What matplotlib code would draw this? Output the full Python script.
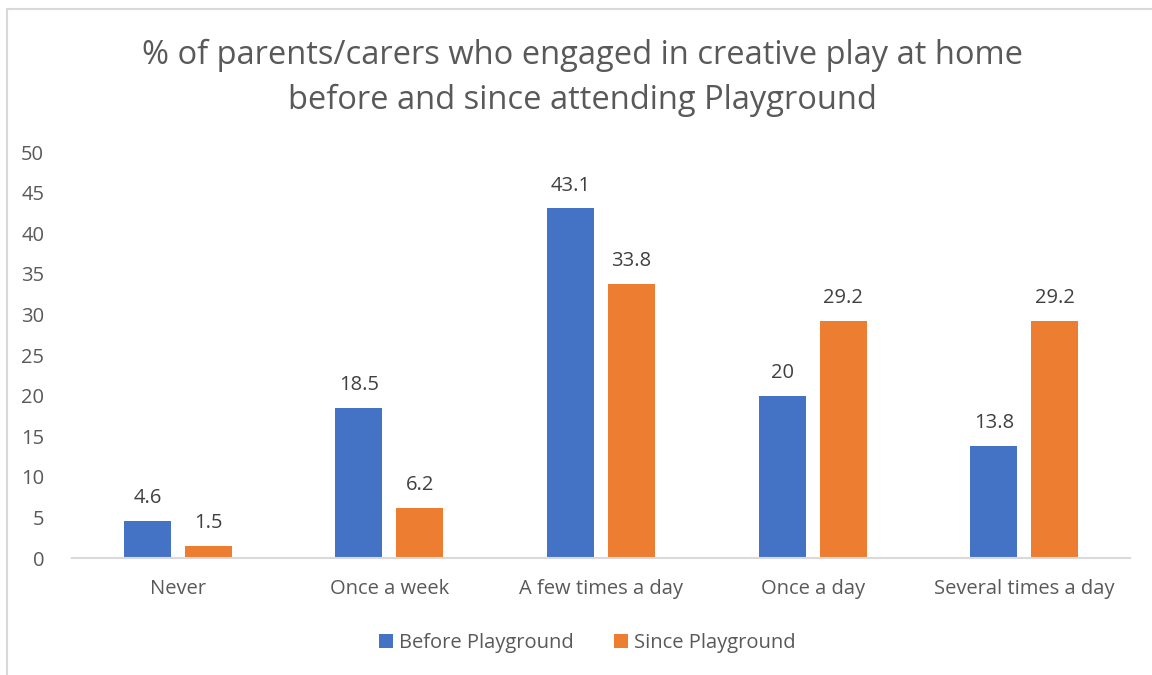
import numpy as np
import matplotlib.pyplot as plt
from matplotlib.patches import Rectangle

categories = ['Never', 'Once a week', 'A few times a day', 'Once a day', 'Several times a day']
before = [4.6, 18.5, 43.1, 20, 13.8]
since = [1.5, 6.2, 33.8, 29.2, 29.2]
before_labels = ['4.6', '18.5', '43.1', '20', '13.8']
since_labels = ['1.5', '6.2', '33.8', '29.2', '29.2']

plt.rcParams['font.family'] = ['Open Sans', 'DejaVu Sans']
grey = '#595959'
blue = '#4472c4'
orange = '#ed7d31'

fig = plt.figure(figsize=(11.52, 6.75), dpi=100)
ax = fig.add_axes([0.0625, 0.1733, 0.9185, 0.6015])

# chart border (light grey frame, cut at right and bottom like the source)
fig.add_artist(Rectangle((7/1152, -0.01), 1.0, 1 - 9/675 + 0.01, transform=fig.transFigure,
                         fill=False, edgecolor='#d9d9d9', linewidth=1.5))

x = np.arange(len(categories))
w = 0.222
off = (w + 0.066) / 2
b1 = ax.bar(x - off, before, w, color=blue, label='Before Playground')
b2 = ax.bar(x + off, since, w, color=orange, label='Since Playground')
ax.bar_label(b1, labels=before_labels, padding=9, fontsize=14.5, color='#404040')
ax.bar_label(b2, labels=since_labels, padding=9, fontsize=14.5, color='#404040')

ax.set_xlim(-0.5, len(categories) - 0.5)
ax.set_ylim(0, 50)
ax.set_yticks(range(0, 51, 5))
ax.set_xticks(x)
ax.set_xticklabels(categories)
ax.tick_params(axis='both', length=0, labelsize=14.5, labelcolor=grey)
ax.tick_params(axis='x', pad=15)
ax.tick_params(axis='y', pad=20)
for s in ['top', 'right', 'left']:
    ax.spines[s].set_visible(False)
ax.spines['bottom'].set_color('#d9d9d9')
ax.spines['bottom'].set_linewidth(1.5)

fig.text(0.506, 0.885, '% of parents/carers who engaged in creative play at home\nbefore and since attending Playground',
         ha='center', va='center', fontsize=23.5, color=grey, linespacing=1.48)

fig.legend(loc='center', bbox_to_anchor=(0.51, 0.047), ncol=2, frameon=False, fontsize=14.5,
           labelcolor=grey, handlelength=0.7, handleheight=0.7, handletextpad=0.3, columnspacing=2.0)

fig.savefig('out.png', dpi=100)
